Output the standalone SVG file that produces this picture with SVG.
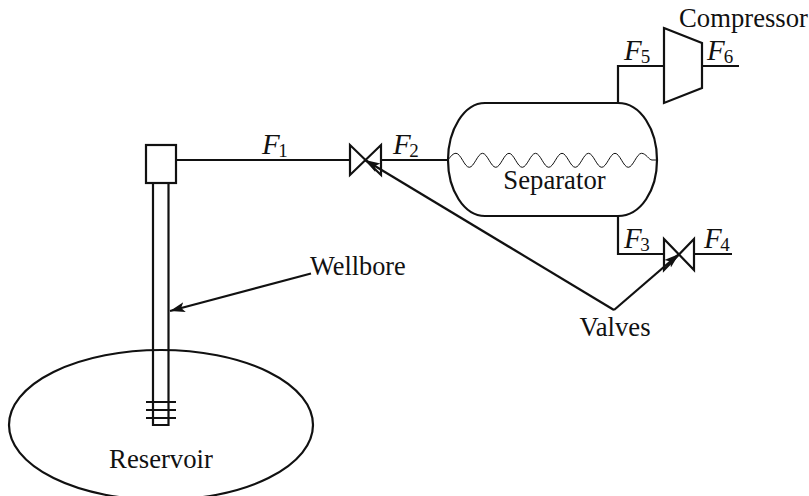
<svg xmlns="http://www.w3.org/2000/svg" width="809" height="496" viewBox="0 0 809 496">
<style>
.s{fill:none;stroke:#111;stroke-width:2.2}
.v{fill:#fff;stroke:#111;stroke-width:2.2}
.w{fill:none;stroke:#111;stroke-width:1}
text{font-family:"Liberation Serif","Times New Roman",serif;fill:#111;font-size:26.7px}
.f{font-style:italic;font-size:29px}
.n{font-size:19px;font-style:normal}
</style>
<defs>
<marker id="a" markerUnits="userSpaceOnUse" markerWidth="18" markerHeight="14" refX="15" refY="7" orient="auto"><path d="M0,2 L15,7 L0,12 L3.500,7Z" fill="#111"/></marker>
</defs>
<g id="connectors">
<path class="s" d="M177,160H350M381,160H448"/>
<path class="s" d="M618,103V66H664M702,66H739"/>
<path class="s" d="M618,216V254H664M694,254H732"/>
<path class="s" marker-end="url(#a)" d="M311,273.500L170,311"/>
<path class="s" marker-end="url(#a)" d="M614,310L365,160"/>
<path class="s" marker-end="url(#a)" d="M614,310L679,254"/>
</g>
<g id="reservoir"><ellipse class="s" cx="161" cy="425" rx="152" ry="75"/><text x="161" y="468" text-anchor="middle">Reservoir</text></g>
<g id="wellbore">
<path class="s" d="M153,183V425H168.500V183"/>
<path class="s" d="M146,402H176M146,410H176M146,418H176"/>
<rect class="v" x="146" y="145" width="30" height="38"/>
<text x="310" y="275" style="font-size:26.300px">Wellbore</text>
</g>
<g id="separator">
<path class="s" d="M485,103H618C641,103 657,130 657,160C657,190 641,216 618,216H485C464,216 448,190 448,160C448,130 464,103 485,103Z"/>
<path class="w" d="M448,160C451,156 453,153.300 456,153.300C460.800,153.300 464.450,167.300 469.250,167.300S477.700,153.300 482.500,153.300S490.950,167.300 495.750,167.300S504.200,153.300 509,153.300S517.450,167.300 522.250,167.300S530.700,153.300 535.500,153.300S543.950,167.300 548.750,167.300S557.200,153.300 562,153.300S570.450,167.300 575.250,167.300S583.700,153.300 588.500,153.300S596.950,167.300 601.750,167.300S610.200,153.300 615,153.300S623.450,167.300 628.250,167.300S636.700,153.300 641.500,153.300C646,153.300 649,160 652,160H657"/>
<text x="554.500" y="189.300" text-anchor="middle">Separator</text>
</g>
<g id="compressor"><path class="v" d="M664,28L702,43V88L664,103Z"/><text x="679" y="26.700">Compressor</text></g>
<g id="valve1"><path class="s" d="M350,145V175L381,145V175Z"/></g>
<g id="valve2"><path class="s" d="M664,239V270L694,239V270Z"/></g>
<g id="valves-label"><text x="615" y="336" text-anchor="middle">Valves</text></g>
<g id="flows">
<text class="f" x="262" y="154">F<tspan class="n" dx="-1.500" dy="3">1</tspan></text>
<text class="f" x="393" y="154">F<tspan class="n" dx="-1.500" dy="3">2</tspan></text>
<text class="f" x="624" y="248">F<tspan class="n" dx="-1.500" dy="3">3</tspan></text>
<text class="f" x="704" y="248">F<tspan class="n" dx="-1.500" dy="3">4</tspan></text>
<text class="f" x="624" y="60">F<tspan class="n" dx="-1" dy="3">5</tspan></text>
<text class="f" x="707" y="60">F<tspan class="n" dx="-1" dy="3">6</tspan></text>
</g>
</svg>
